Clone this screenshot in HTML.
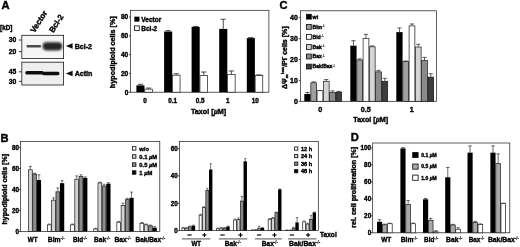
<!DOCTYPE html>
<html><head><meta charset="utf-8"><title>Figure</title>
<style>
html,body{margin:0;padding:0;background:#fff;}
body{width:520px;height:247px;overflow:hidden;font-family:"Liberation Sans",sans-serif;}
svg{display:block;}
svg text{font-family:"Liberation Sans",sans-serif;font-weight:bold;stroke:#000;stroke-width:0.38px;}
</style></head><body>
<svg width="520" height="247" viewBox="0 0 520 247">
<rect width="520" height="247" fill="#fff"/>
<defs><filter id="soft" x="0" y="0" width="100%" height="100%" filterUnits="userSpaceOnUse"><feGaussianBlur stdDeviation="0.32"/></filter></defs>
<g filter="url(#soft)">
<text transform="translate(1.4,9.0) scale(1.12,1)" font-size="10" fill="#000">A</text>
<text x="0.00" y="30.10" font-size="6.4" text-anchor="start" fill="#000" >[kD]</text>
<text transform="translate(34.4,33.3) rotate(-57)" font-size="8" fill="#000">Vector</text>
<text transform="translate(53.2,33.3) rotate(-57)" font-size="8" fill="#000">Bcl-2</text>
<defs><filter id="bl" x="-20%" y="-50%" width="140%" height="200%"><feGaussianBlur stdDeviation="0.7"/></filter><filter id="bl3" x="-20%" y="-50%" width="140%" height="200%"><feGaussianBlur stdDeviation="1.0"/></filter><filter id="bl2" x="-20%" y="-50%" width="140%" height="200%"><feGaussianBlur stdDeviation="0.5"/></filter></defs>
<rect x="21.80" y="35.30" width="41.80" height="23.30" fill="#f5f5f5" stroke="#1a1a1a" stroke-width="0.8"/>
<rect x="21.80" y="62.20" width="41.80" height="22.80" fill="#eeeeee" stroke="#1a1a1a" stroke-width="0.8"/>
<rect x="26.5" y="45.1" width="14.5" height="2.4" rx="1.1" fill="#4a4a4a" filter="url(#bl)"/>
<rect x="42.6" y="42.2" width="19.6" height="8.2" rx="3.8" fill="#262626" filter="url(#bl3)"/>
<rect x="25.3" y="70.9" width="18.5" height="3.7" rx="1.7" fill="#111" filter="url(#bl2)"/>
<rect x="42" y="71.7" width="17.5" height="3.5" rx="1.7" fill="#111" filter="url(#bl2)"/>
<text x="16.40" y="42.40" font-size="6.8" text-anchor="end" fill="#000" >30</text>
<line x1="18.80" y1="40.00" x2="21.70" y2="40.00" stroke="#222" stroke-width="0.9"/>
<text x="16.40" y="54.00" font-size="6.8" text-anchor="end" fill="#000" >20</text>
<line x1="18.80" y1="51.60" x2="21.70" y2="51.60" stroke="#222" stroke-width="0.9"/>
<text x="16.40" y="74.20" font-size="6.8" text-anchor="end" fill="#000" >45</text>
<line x1="18.80" y1="71.80" x2="21.70" y2="71.80" stroke="#222" stroke-width="0.9"/>
<text x="16.40" y="83.80" font-size="6.8" text-anchor="end" fill="#000" >30</text>
<line x1="18.80" y1="81.40" x2="21.70" y2="81.40" stroke="#222" stroke-width="0.9"/>
<path d="M65.8,46.0 L72.6,43.3 L72.6,48.7 Z" fill="#111"/>
<text x="74.70" y="48.60" font-size="7.1" text-anchor="start" fill="#000" >Bcl-2</text>
<path d="M65.8,73.5 L72.6,70.8 L72.6,76.2 Z" fill="#111"/>
<text x="74.70" y="76.10" font-size="7.1" text-anchor="start" fill="#000" >Actin</text>
<rect x="130.60" y="10.30" width="138.30" height="81.90" fill="none" stroke="#1a1a1a" stroke-width="0.7"/>
<line x1="129.00" y1="92.20" x2="130.60" y2="92.20" stroke="#1a1a1a" stroke-width="0.8"/>
<text x="128.30" y="94.58" font-size="6.6" text-anchor="end" fill="#000" >0</text>
<line x1="129.00" y1="73.42" x2="130.60" y2="73.42" stroke="#1a1a1a" stroke-width="0.8"/>
<text x="128.30" y="75.80" font-size="6.6" text-anchor="end" fill="#000" >20</text>
<line x1="129.00" y1="54.64" x2="130.60" y2="54.64" stroke="#1a1a1a" stroke-width="0.8"/>
<text x="128.30" y="57.02" font-size="6.6" text-anchor="end" fill="#000" >40</text>
<line x1="129.00" y1="35.86" x2="130.60" y2="35.86" stroke="#1a1a1a" stroke-width="0.8"/>
<text x="128.30" y="38.24" font-size="6.6" text-anchor="end" fill="#000" >60</text>
<line x1="129.00" y1="17.08" x2="130.60" y2="17.08" stroke="#1a1a1a" stroke-width="0.8"/>
<text x="128.30" y="19.46" font-size="6.6" text-anchor="end" fill="#000" >80</text>
<text transform="translate(114.8,52.2) rotate(-90)" font-size="7.2" text-anchor="middle" fill="#000">hypodiploid cells [%]</text>
<line x1="140.45" y1="85.39" x2="140.45" y2="84.31" stroke="#2a2a2a" stroke-width="0.8239999999999998"/>
<line x1="137.78" y1="84.31" x2="143.12" y2="84.31" stroke="#2a2a2a" stroke-width="0.8239999999999998"/>
<rect x="136.40" y="85.39" width="8.10" height="6.81" fill="#000"/>
<line x1="148.55" y1="88.91" x2="148.55" y2="88.07" stroke="#2a2a2a" stroke-width="0.8239999999999998"/>
<line x1="145.88" y1="88.07" x2="151.22" y2="88.07" stroke="#2a2a2a" stroke-width="0.8239999999999998"/>
<rect x="144.75" y="89.16" width="7.60" height="3.04" fill="#fff" stroke="#1a1a1a" stroke-width="0.7"/>
<line x1="168.15" y1="31.54" x2="168.15" y2="30.60" stroke="#2a2a2a" stroke-width="0.8239999999999998"/>
<line x1="165.48" y1="30.60" x2="170.82" y2="30.60" stroke="#2a2a2a" stroke-width="0.8239999999999998"/>
<rect x="164.10" y="31.54" width="8.10" height="60.66" fill="#000"/>
<line x1="176.25" y1="74.92" x2="176.25" y2="73.80" stroke="#2a2a2a" stroke-width="0.8239999999999998"/>
<line x1="173.58" y1="73.80" x2="178.92" y2="73.80" stroke="#2a2a2a" stroke-width="0.8239999999999998"/>
<rect x="172.45" y="75.17" width="7.60" height="17.03" fill="#fff" stroke="#1a1a1a" stroke-width="0.7"/>
<line x1="195.65" y1="26.85" x2="195.65" y2="26.38" stroke="#2a2a2a" stroke-width="0.8239999999999998"/>
<line x1="192.98" y1="26.38" x2="198.32" y2="26.38" stroke="#2a2a2a" stroke-width="0.8239999999999998"/>
<rect x="191.60" y="26.85" width="8.10" height="65.35" fill="#000"/>
<line x1="203.75" y1="75.20" x2="203.75" y2="72.01" stroke="#2a2a2a" stroke-width="0.8239999999999998"/>
<line x1="201.08" y1="72.01" x2="206.42" y2="72.01" stroke="#2a2a2a" stroke-width="0.8239999999999998"/>
<rect x="199.95" y="75.45" width="7.60" height="16.75" fill="#fff" stroke="#1a1a1a" stroke-width="0.7"/>
<line x1="223.25" y1="28.91" x2="223.25" y2="19.24" stroke="#2a2a2a" stroke-width="0.8239999999999998"/>
<line x1="220.58" y1="19.24" x2="225.92" y2="19.24" stroke="#2a2a2a" stroke-width="0.8239999999999998"/>
<rect x="219.20" y="28.91" width="8.10" height="63.29" fill="#000"/>
<line x1="231.35" y1="74.27" x2="231.35" y2="70.98" stroke="#2a2a2a" stroke-width="0.8239999999999998"/>
<line x1="228.68" y1="70.98" x2="234.02" y2="70.98" stroke="#2a2a2a" stroke-width="0.8239999999999998"/>
<rect x="227.55" y="74.52" width="7.60" height="17.68" fill="#fff" stroke="#1a1a1a" stroke-width="0.7"/>
<line x1="250.85" y1="38.11" x2="250.85" y2="37.64" stroke="#2a2a2a" stroke-width="0.8239999999999998"/>
<line x1="248.18" y1="37.64" x2="253.52" y2="37.64" stroke="#2a2a2a" stroke-width="0.8239999999999998"/>
<rect x="246.80" y="38.11" width="8.10" height="54.09" fill="#000"/>
<line x1="258.95" y1="75.20" x2="258.95" y2="74.83" stroke="#2a2a2a" stroke-width="0.8239999999999998"/>
<line x1="256.28" y1="74.83" x2="261.62" y2="74.83" stroke="#2a2a2a" stroke-width="0.8239999999999998"/>
<rect x="255.15" y="75.45" width="7.60" height="16.75" fill="#fff" stroke="#1a1a1a" stroke-width="0.7"/>
<text x="144.90" y="103.10" font-size="6.3" text-anchor="middle" fill="#000" >0</text>
<text x="172.60" y="103.10" font-size="6.3" text-anchor="middle" fill="#000" >0.1</text>
<text x="200.10" y="103.10" font-size="6.3" text-anchor="middle" fill="#000" >0.5</text>
<text x="227.70" y="103.10" font-size="6.3" text-anchor="middle" fill="#000" >1</text>
<text x="255.30" y="103.10" font-size="6.3" text-anchor="middle" fill="#000" >10</text>
<text x="208.60" y="113.60" font-size="7.2" text-anchor="middle" fill="#000" >Taxol [<tspan font-style="italic">µ</tspan>M]</text>
<rect x="134.50" y="16.90" width="4.80" height="4.60" fill="#000" stroke="#000" stroke-width="0.3"/>
<text x="141.30" y="21.60" font-size="6.5" text-anchor="start" fill="#000" >Vector</text>
<rect x="134.50" y="25.90" width="4.80" height="4.60" fill="#fff" stroke="#111" stroke-width="0.85"/>
<text x="141.30" y="30.80" font-size="6.5" text-anchor="start" fill="#000" >Bcl-2</text>
<text transform="translate(279.6,9.0) scale(1.12,1)" font-size="10" fill="#000">C</text>
<rect x="300.50" y="10.80" width="136.10" height="90.50" fill="none" stroke="#1a1a1a" stroke-width="0.7"/>
<line x1="298.90" y1="101.30" x2="300.50" y2="101.30" stroke="#1a1a1a" stroke-width="0.8"/>
<text x="297.80" y="103.82" font-size="7" text-anchor="end" fill="#000" >0</text>
<line x1="298.90" y1="80.40" x2="300.50" y2="80.40" stroke="#1a1a1a" stroke-width="0.8"/>
<text x="297.80" y="82.92" font-size="7" text-anchor="end" fill="#000" >10</text>
<line x1="298.90" y1="59.50" x2="300.50" y2="59.50" stroke="#1a1a1a" stroke-width="0.8"/>
<text x="297.80" y="62.02" font-size="7" text-anchor="end" fill="#000" >20</text>
<line x1="298.90" y1="38.60" x2="300.50" y2="38.60" stroke="#1a1a1a" stroke-width="0.8"/>
<text x="297.80" y="41.12" font-size="7" text-anchor="end" fill="#000" >30</text>
<line x1="298.90" y1="17.70" x2="300.50" y2="17.70" stroke="#1a1a1a" stroke-width="0.8"/>
<text x="297.80" y="20.22" font-size="7" text-anchor="end" fill="#000" >40</text>
<text id="clab" transform="translate(286.6,26.4) rotate(-90)" font-size="7" text-anchor="end" fill="#000">ΔΨ<tspan font-size="4.3" dy="1.6">m</tspan><tspan font-size="4.3" dy="-4.6" dx="0.4">low</tspan><tspan dy="3">/PI</tspan><tspan font-size="4.5" dy="-3">-</tspan><tspan dy="3"> cells [%]</tspan></text>
<line x1="307.44" y1="93.98" x2="307.44" y2="92.52" stroke="#2a2a2a" stroke-width="0.7507999999999992"/>
<line x1="305.37" y1="92.52" x2="309.50" y2="92.52" stroke="#2a2a2a" stroke-width="0.7507999999999992"/>
<rect x="304.30" y="93.98" width="6.27" height="7.31" fill="#000"/>
<line x1="313.71" y1="82.49" x2="313.71" y2="81.86" stroke="#2a2a2a" stroke-width="0.7508000000000016"/>
<line x1="311.64" y1="81.86" x2="315.77" y2="81.86" stroke="#2a2a2a" stroke-width="0.7508000000000016"/>
<rect x="310.82" y="82.74" width="5.77" height="18.56" fill="#a0a0a0" stroke="#1a1a1a" stroke-width="0.7"/>
<line x1="319.98" y1="90.43" x2="319.98" y2="90.43" stroke="#2a2a2a" stroke-width="0.7507999999999992"/>
<line x1="317.91" y1="90.43" x2="322.04" y2="90.43" stroke="#2a2a2a" stroke-width="0.7507999999999992"/>
<rect x="317.09" y="90.68" width="5.77" height="10.62" fill="#fff" stroke="#1a1a1a" stroke-width="0.7"/>
<line x1="326.25" y1="81.03" x2="326.25" y2="79.56" stroke="#2a2a2a" stroke-width="0.7507999999999992"/>
<line x1="324.18" y1="79.56" x2="328.31" y2="79.56" stroke="#2a2a2a" stroke-width="0.7507999999999992"/>
<rect x="323.36" y="81.28" width="5.77" height="20.02" fill="#d4d4d4" stroke="#1a1a1a" stroke-width="0.7"/>
<line x1="332.51" y1="92.31" x2="332.51" y2="90.85" stroke="#2a2a2a" stroke-width="0.7508000000000016"/>
<line x1="330.45" y1="90.85" x2="334.58" y2="90.85" stroke="#2a2a2a" stroke-width="0.7508000000000016"/>
<rect x="329.63" y="92.56" width="5.77" height="8.74" fill="#8a8a8a" stroke="#1a1a1a" stroke-width="0.7"/>
<line x1="338.79" y1="91.89" x2="338.79" y2="91.48" stroke="#2a2a2a" stroke-width="0.7507999999999992"/>
<line x1="336.72" y1="91.48" x2="340.85" y2="91.48" stroke="#2a2a2a" stroke-width="0.7507999999999992"/>
<rect x="335.90" y="92.14" width="5.77" height="9.16" fill="#3c3c3c" stroke="#1a1a1a" stroke-width="0.7"/>
<line x1="353.44" y1="45.71" x2="353.44" y2="40.69" stroke="#2a2a2a" stroke-width="0.7507999999999992"/>
<line x1="351.37" y1="40.69" x2="355.50" y2="40.69" stroke="#2a2a2a" stroke-width="0.7507999999999992"/>
<rect x="350.30" y="45.71" width="6.27" height="55.59" fill="#000"/>
<line x1="359.71" y1="59.71" x2="359.71" y2="58.87" stroke="#2a2a2a" stroke-width="0.7508000000000016"/>
<line x1="357.64" y1="58.87" x2="361.77" y2="58.87" stroke="#2a2a2a" stroke-width="0.7508000000000016"/>
<rect x="356.82" y="59.96" width="5.77" height="41.34" fill="#a0a0a0" stroke="#1a1a1a" stroke-width="0.7"/>
<line x1="365.98" y1="38.18" x2="365.98" y2="34.42" stroke="#2a2a2a" stroke-width="0.7507999999999992"/>
<line x1="363.91" y1="34.42" x2="368.04" y2="34.42" stroke="#2a2a2a" stroke-width="0.7507999999999992"/>
<rect x="363.09" y="38.43" width="5.77" height="62.87" fill="#fff" stroke="#1a1a1a" stroke-width="0.7"/>
<line x1="372.25" y1="46.54" x2="372.25" y2="45.91" stroke="#2a2a2a" stroke-width="0.7507999999999992"/>
<line x1="370.18" y1="45.91" x2="374.31" y2="45.91" stroke="#2a2a2a" stroke-width="0.7507999999999992"/>
<rect x="369.36" y="46.79" width="5.77" height="54.51" fill="#d4d4d4" stroke="#1a1a1a" stroke-width="0.7"/>
<line x1="378.51" y1="71.62" x2="378.51" y2="70.37" stroke="#2a2a2a" stroke-width="0.7508000000000016"/>
<line x1="376.45" y1="70.37" x2="380.58" y2="70.37" stroke="#2a2a2a" stroke-width="0.7508000000000016"/>
<rect x="375.63" y="71.87" width="5.77" height="29.43" fill="#8a8a8a" stroke="#1a1a1a" stroke-width="0.7"/>
<line x1="384.79" y1="81.03" x2="384.79" y2="78.31" stroke="#2a2a2a" stroke-width="0.7507999999999992"/>
<line x1="382.72" y1="78.31" x2="386.85" y2="78.31" stroke="#2a2a2a" stroke-width="0.7507999999999992"/>
<rect x="381.90" y="81.28" width="5.77" height="20.02" fill="#3c3c3c" stroke="#1a1a1a" stroke-width="0.7"/>
<line x1="399.44" y1="32.12" x2="399.44" y2="27.94" stroke="#2a2a2a" stroke-width="0.7507999999999992"/>
<line x1="397.37" y1="27.94" x2="401.50" y2="27.94" stroke="#2a2a2a" stroke-width="0.7507999999999992"/>
<rect x="396.30" y="32.12" width="6.27" height="69.18" fill="#000"/>
<line x1="405.71" y1="61.38" x2="405.71" y2="60.96" stroke="#2a2a2a" stroke-width="0.7508000000000016"/>
<line x1="403.64" y1="60.96" x2="407.77" y2="60.96" stroke="#2a2a2a" stroke-width="0.7508000000000016"/>
<rect x="402.82" y="61.63" width="5.77" height="39.67" fill="#a0a0a0" stroke="#1a1a1a" stroke-width="0.7"/>
<line x1="411.98" y1="25.64" x2="411.98" y2="23.97" stroke="#2a2a2a" stroke-width="0.7507999999999992"/>
<line x1="409.91" y1="23.97" x2="414.04" y2="23.97" stroke="#2a2a2a" stroke-width="0.7507999999999992"/>
<rect x="409.09" y="25.89" width="5.77" height="75.41" fill="#fff" stroke="#1a1a1a" stroke-width="0.7"/>
<line x1="418.25" y1="46.75" x2="418.25" y2="44.24" stroke="#2a2a2a" stroke-width="0.7507999999999992"/>
<line x1="416.18" y1="44.24" x2="420.31" y2="44.24" stroke="#2a2a2a" stroke-width="0.7507999999999992"/>
<rect x="415.36" y="47.00" width="5.77" height="54.30" fill="#d4d4d4" stroke="#1a1a1a" stroke-width="0.7"/>
<line x1="424.51" y1="60.34" x2="424.51" y2="57.41" stroke="#2a2a2a" stroke-width="0.7508000000000016"/>
<line x1="422.45" y1="57.41" x2="426.58" y2="57.41" stroke="#2a2a2a" stroke-width="0.7508000000000016"/>
<rect x="421.63" y="60.59" width="5.77" height="40.71" fill="#8a8a8a" stroke="#1a1a1a" stroke-width="0.7"/>
<line x1="430.79" y1="76.85" x2="430.79" y2="73.71" stroke="#2a2a2a" stroke-width="0.7507999999999992"/>
<line x1="428.72" y1="73.71" x2="432.85" y2="73.71" stroke="#2a2a2a" stroke-width="0.7507999999999992"/>
<rect x="427.90" y="77.10" width="5.77" height="24.20" fill="#3c3c3c" stroke="#1a1a1a" stroke-width="0.7"/>
<text x="320.20" y="112.00" font-size="7.2" text-anchor="middle" fill="#000" >0</text>
<text x="365.70" y="112.00" font-size="7.2" text-anchor="middle" fill="#000" >0.5</text>
<text x="411.70" y="112.00" font-size="7.2" text-anchor="middle" fill="#000" >1</text>
<text x="370.70" y="122.00" font-size="7.1" text-anchor="middle" fill="#000" >Taxol [<tspan font-style="italic">µ</tspan>M]</text>
<rect x="306.50" y="14.30" width="4.80" height="4.80" fill="#000" stroke="#111" stroke-width="0.85"/>
<text x="312.60" y="18.50" font-size="5" text-anchor="start" fill="#000" >wt</text>
<rect x="306.50" y="24.50" width="4.80" height="4.80" fill="#a0a0a0" stroke="#111" stroke-width="0.85"/>
<text x="312.60" y="28.70" font-size="5" text-anchor="start" fill="#000" >Bim<tspan font-size="3.30" dy="-1.50" stroke-width="0.1">-/-</tspan></text>
<rect x="306.50" y="34.50" width="4.80" height="4.80" fill="#fff" stroke="#111" stroke-width="0.85"/>
<text x="312.60" y="38.70" font-size="5" text-anchor="start" fill="#000" >Bid<tspan font-size="3.30" dy="-1.50" stroke-width="0.1">-/-</tspan></text>
<rect x="306.50" y="44.60" width="4.80" height="4.80" fill="#d4d4d4" stroke="#111" stroke-width="0.85"/>
<text x="312.60" y="48.80" font-size="5" text-anchor="start" fill="#000" >Bak<tspan font-size="3.30" dy="-1.50" stroke-width="0.1">-/-</tspan></text>
<rect x="306.50" y="54.10" width="4.80" height="4.80" fill="#8a8a8a" stroke="#111" stroke-width="0.85"/>
<text x="312.60" y="58.30" font-size="5" text-anchor="start" fill="#000" >Bax<tspan font-size="3.30" dy="-1.50" stroke-width="0.1">-/-</tspan></text>
<rect x="306.50" y="64.20" width="4.80" height="4.80" fill="#3c3c3c" stroke="#111" stroke-width="0.85"/>
<text x="312.60" y="68.40" font-size="5" text-anchor="start" fill="#000" >Bak/Bax<tspan font-size="3.30" dy="-1.50" stroke-width="0.1">-/-</tspan></text>
<text transform="translate(0.5,142.0) scale(1.12,1)" font-size="10" fill="#000">B</text>
<rect x="20.60" y="141.60" width="139.20" height="89.80" fill="none" stroke="#1a1a1a" stroke-width="0.7"/>
<line x1="19.00" y1="231.40" x2="20.60" y2="231.40" stroke="#1a1a1a" stroke-width="0.8"/>
<text x="19.00" y="233.70" font-size="6.4" text-anchor="end" fill="#000" >0</text>
<line x1="19.00" y1="210.44" x2="20.60" y2="210.44" stroke="#1a1a1a" stroke-width="0.8"/>
<text x="19.00" y="212.74" font-size="6.4" text-anchor="end" fill="#000" >20</text>
<line x1="19.00" y1="189.48" x2="20.60" y2="189.48" stroke="#1a1a1a" stroke-width="0.8"/>
<text x="19.00" y="191.78" font-size="6.4" text-anchor="end" fill="#000" >40</text>
<line x1="19.00" y1="168.52" x2="20.60" y2="168.52" stroke="#1a1a1a" stroke-width="0.8"/>
<text x="19.00" y="170.82" font-size="6.4" text-anchor="end" fill="#000" >60</text>
<line x1="19.00" y1="147.56" x2="20.60" y2="147.56" stroke="#1a1a1a" stroke-width="0.8"/>
<text x="19.00" y="149.86" font-size="6.4" text-anchor="end" fill="#000" >80</text>
<text transform="translate(6.6,189.2) rotate(-90)" font-size="7.05" text-anchor="middle" fill="#000">hypodiploid cells [%]</text>
<line x1="30.41" y1="169.57" x2="30.41" y2="166.42" stroke="#2a2a2a" stroke-width="0.6708"/>
<line x1="29.00" y1="166.42" x2="31.81" y2="166.42" stroke="#2a2a2a" stroke-width="0.6708"/>
<rect x="28.52" y="169.82" width="3.77" height="61.58" fill="#d4d4d4" stroke="#1a1a1a" stroke-width="0.7"/>
<line x1="34.67" y1="173.76" x2="34.67" y2="173.24" stroke="#2a2a2a" stroke-width="0.6708000000000001"/>
<line x1="33.27" y1="173.24" x2="36.08" y2="173.24" stroke="#2a2a2a" stroke-width="0.6708000000000001"/>
<rect x="32.79" y="174.01" width="3.77" height="57.39" fill="#8c8c8c" stroke="#1a1a1a" stroke-width="0.7"/>
<line x1="38.95" y1="180.05" x2="38.95" y2="174.81" stroke="#2a2a2a" stroke-width="0.6707999999999998"/>
<line x1="37.54" y1="174.81" x2="40.35" y2="174.81" stroke="#2a2a2a" stroke-width="0.6707999999999998"/>
<rect x="36.81" y="180.05" width="4.27" height="51.35" fill="#000"/>
<line x1="49.28" y1="224.59" x2="49.28" y2="224.06" stroke="#2a2a2a" stroke-width="0.6708000000000001"/>
<line x1="47.88" y1="224.06" x2="50.69" y2="224.06" stroke="#2a2a2a" stroke-width="0.6708000000000001"/>
<rect x="47.40" y="224.84" width="3.77" height="6.56" fill="#fff" stroke="#1a1a1a" stroke-width="0.7"/>
<line x1="53.55" y1="199.96" x2="53.55" y2="197.86" stroke="#2a2a2a" stroke-width="0.6707999999999998"/>
<line x1="52.15" y1="197.86" x2="54.96" y2="197.86" stroke="#2a2a2a" stroke-width="0.6707999999999998"/>
<rect x="51.67" y="200.21" width="3.77" height="31.19" fill="#d4d4d4" stroke="#1a1a1a" stroke-width="0.7"/>
<line x1="57.82" y1="191.58" x2="57.82" y2="187.91" stroke="#2a2a2a" stroke-width="0.6707999999999998"/>
<line x1="56.42" y1="187.91" x2="59.23" y2="187.91" stroke="#2a2a2a" stroke-width="0.6707999999999998"/>
<rect x="55.94" y="191.83" width="3.77" height="39.57" fill="#8c8c8c" stroke="#1a1a1a" stroke-width="0.7"/>
<line x1="62.09" y1="183.19" x2="62.09" y2="180.57" stroke="#2a2a2a" stroke-width="0.6707999999999998"/>
<line x1="60.69" y1="180.57" x2="63.50" y2="180.57" stroke="#2a2a2a" stroke-width="0.6707999999999998"/>
<rect x="59.96" y="183.19" width="4.27" height="48.21" fill="#000"/>
<line x1="72.44" y1="224.59" x2="72.44" y2="224.06" stroke="#2a2a2a" stroke-width="0.6707999999999998"/>
<line x1="71.03" y1="224.06" x2="73.84" y2="224.06" stroke="#2a2a2a" stroke-width="0.6707999999999998"/>
<rect x="70.55" y="224.84" width="3.77" height="6.56" fill="#fff" stroke="#1a1a1a" stroke-width="0.7"/>
<line x1="76.70" y1="179.00" x2="76.70" y2="175.86" stroke="#2a2a2a" stroke-width="0.6708000000000004"/>
<line x1="75.30" y1="175.86" x2="78.11" y2="175.86" stroke="#2a2a2a" stroke-width="0.6708000000000004"/>
<rect x="74.82" y="179.25" width="3.77" height="52.15" fill="#d4d4d4" stroke="#1a1a1a" stroke-width="0.7"/>
<line x1="80.97" y1="176.38" x2="80.97" y2="174.81" stroke="#2a2a2a" stroke-width="0.6707999999999998"/>
<line x1="79.57" y1="174.81" x2="82.38" y2="174.81" stroke="#2a2a2a" stroke-width="0.6707999999999998"/>
<rect x="79.09" y="176.63" width="3.77" height="54.77" fill="#8c8c8c" stroke="#1a1a1a" stroke-width="0.7"/>
<line x1="85.25" y1="177.95" x2="85.25" y2="176.90" stroke="#2a2a2a" stroke-width="0.6707999999999998"/>
<line x1="83.84" y1="176.90" x2="86.65" y2="176.90" stroke="#2a2a2a" stroke-width="0.6707999999999998"/>
<rect x="83.11" y="177.95" width="4.27" height="53.45" fill="#000"/>
<line x1="95.58" y1="228.78" x2="95.58" y2="228.26" stroke="#2a2a2a" stroke-width="0.6707999999999998"/>
<line x1="94.18" y1="228.26" x2="96.99" y2="228.26" stroke="#2a2a2a" stroke-width="0.6707999999999998"/>
<rect x="93.70" y="229.03" width="3.77" height="2.37" fill="#fff" stroke="#1a1a1a" stroke-width="0.7"/>
<line x1="99.85" y1="182.67" x2="99.85" y2="182.14" stroke="#2a2a2a" stroke-width="0.6707999999999998"/>
<line x1="98.45" y1="182.14" x2="101.26" y2="182.14" stroke="#2a2a2a" stroke-width="0.6707999999999998"/>
<rect x="97.97" y="182.92" width="3.77" height="48.48" fill="#d4d4d4" stroke="#1a1a1a" stroke-width="0.7"/>
<line x1="104.12" y1="185.81" x2="104.12" y2="184.24" stroke="#2a2a2a" stroke-width="0.6708000000000004"/>
<line x1="102.72" y1="184.24" x2="105.53" y2="184.24" stroke="#2a2a2a" stroke-width="0.6708000000000004"/>
<rect x="102.24" y="186.06" width="3.77" height="45.34" fill="#8c8c8c" stroke="#1a1a1a" stroke-width="0.7"/>
<line x1="108.39" y1="183.72" x2="108.39" y2="182.67" stroke="#2a2a2a" stroke-width="0.6707999999999998"/>
<line x1="106.99" y1="182.67" x2="109.80" y2="182.67" stroke="#2a2a2a" stroke-width="0.6707999999999998"/>
<rect x="106.26" y="183.72" width="4.27" height="47.68" fill="#000"/>
<line x1="118.73" y1="221.97" x2="118.73" y2="221.44" stroke="#2a2a2a" stroke-width="0.6707999999999998"/>
<line x1="117.33" y1="221.44" x2="120.14" y2="221.44" stroke="#2a2a2a" stroke-width="0.6707999999999998"/>
<rect x="116.85" y="222.22" width="3.77" height="9.18" fill="#fff" stroke="#1a1a1a" stroke-width="0.7"/>
<line x1="123.00" y1="205.20" x2="123.00" y2="203.10" stroke="#2a2a2a" stroke-width="0.6707999999999998"/>
<line x1="121.60" y1="203.10" x2="124.41" y2="203.10" stroke="#2a2a2a" stroke-width="0.6707999999999998"/>
<rect x="121.12" y="205.45" width="3.77" height="25.95" fill="#d4d4d4" stroke="#1a1a1a" stroke-width="0.7"/>
<line x1="127.27" y1="199.44" x2="127.27" y2="198.39" stroke="#2a2a2a" stroke-width="0.6708000000000004"/>
<line x1="125.87" y1="198.39" x2="128.68" y2="198.39" stroke="#2a2a2a" stroke-width="0.6708000000000004"/>
<rect x="125.39" y="199.69" width="3.77" height="31.71" fill="#8c8c8c" stroke="#1a1a1a" stroke-width="0.7"/>
<line x1="131.55" y1="197.86" x2="131.55" y2="192.10" stroke="#2a2a2a" stroke-width="0.6708000000000004"/>
<line x1="130.14" y1="192.10" x2="132.95" y2="192.10" stroke="#2a2a2a" stroke-width="0.6708000000000004"/>
<rect x="129.41" y="197.86" width="4.27" height="33.54" fill="#000"/>
<line x1="141.88" y1="223.02" x2="141.88" y2="222.49" stroke="#2a2a2a" stroke-width="0.6708000000000004"/>
<line x1="140.48" y1="222.49" x2="143.29" y2="222.49" stroke="#2a2a2a" stroke-width="0.6708000000000004"/>
<rect x="140.00" y="223.27" width="3.77" height="8.13" fill="#fff" stroke="#1a1a1a" stroke-width="0.7"/>
<line x1="146.16" y1="224.59" x2="146.16" y2="224.06" stroke="#2a2a2a" stroke-width="0.6707999999999993"/>
<line x1="144.75" y1="224.06" x2="147.56" y2="224.06" stroke="#2a2a2a" stroke-width="0.6707999999999993"/>
<rect x="144.27" y="224.84" width="3.77" height="6.56" fill="#d4d4d4" stroke="#1a1a1a" stroke-width="0.7"/>
<line x1="150.43" y1="225.64" x2="150.43" y2="225.11" stroke="#2a2a2a" stroke-width="0.6708000000000004"/>
<line x1="149.02" y1="225.11" x2="151.83" y2="225.11" stroke="#2a2a2a" stroke-width="0.6708000000000004"/>
<rect x="148.54" y="225.89" width="3.77" height="5.51" fill="#8c8c8c" stroke="#1a1a1a" stroke-width="0.7"/>
<line x1="154.69" y1="227.73" x2="154.69" y2="226.68" stroke="#2a2a2a" stroke-width="0.6707999999999993"/>
<line x1="153.29" y1="226.68" x2="156.10" y2="226.68" stroke="#2a2a2a" stroke-width="0.6707999999999993"/>
<rect x="152.56" y="227.73" width="4.27" height="3.67" fill="#000"/>
<text x="27.80" y="242.30" font-size="6.8" text-anchor="start" fill="#000" textLength="9.8" lengthAdjust="spacingAndGlyphs">WT</text>
<text x="47.80" y="242.30" font-size="6.8" text-anchor="start" fill="#000" textLength="17.0" lengthAdjust="spacingAndGlyphs">Bim<tspan font-size="4.49" dy="-2.04" stroke-width="0.1">-/-</tspan></text>
<text x="72.90" y="242.30" font-size="6.8" text-anchor="start" fill="#000" textLength="14.2" lengthAdjust="spacingAndGlyphs">Bid<tspan font-size="4.49" dy="-2.04" stroke-width="0.1">-/-</tspan></text>
<text x="94.10" y="242.30" font-size="6.8" text-anchor="start" fill="#000" textLength="16.1" lengthAdjust="spacingAndGlyphs">Bak<tspan font-size="4.49" dy="-2.04" stroke-width="0.1">-/-</tspan></text>
<text x="114.40" y="242.30" font-size="6.8" text-anchor="start" fill="#000" textLength="16.6" lengthAdjust="spacingAndGlyphs">Bax<tspan font-size="4.49" dy="-2.04" stroke-width="0.1">-/-</tspan></text>
<text x="135.50" y="242.30" font-size="6.8" text-anchor="start" fill="#000" textLength="29.6" lengthAdjust="spacingAndGlyphs">Bak/Bax<tspan font-size="4.49" dy="-2.04" stroke-width="0.1">-/-</tspan></text>
<rect x="132.40" y="146.65" width="3.50" height="3.50" fill="#fff" stroke="#111" stroke-width="0.85"/>
<text x="139.30" y="150.50" font-size="5.8" text-anchor="start" fill="#000" >w/o</text>
<rect x="132.40" y="154.75" width="3.50" height="3.50" fill="#d4d4d4" stroke="#111" stroke-width="0.85"/>
<text x="139.30" y="158.60" font-size="5.8" text-anchor="start" fill="#000" >0.1 <tspan font-style="italic">µ</tspan>M</text>
<rect x="132.40" y="162.85" width="3.50" height="3.50" fill="#8c8c8c" stroke="#111" stroke-width="0.85"/>
<text x="139.30" y="166.70" font-size="5.8" text-anchor="start" fill="#000" >0.5 <tspan font-style="italic">µ</tspan>M</text>
<rect x="132.40" y="170.75" width="3.50" height="3.50" fill="#000" stroke="#111" stroke-width="0.85"/>
<text x="139.30" y="174.60" font-size="5.8" text-anchor="start" fill="#000" >1 <tspan font-style="italic">µ</tspan>M</text>
<rect x="179.60" y="141.60" width="138.70" height="89.00" fill="none" stroke="#1a1a1a" stroke-width="0.7"/>
<line x1="178.00" y1="230.60" x2="179.60" y2="230.60" stroke="#1a1a1a" stroke-width="0.8"/>
<text x="177.80" y="232.87" font-size="6.3" text-anchor="end" fill="#000" >0</text>
<line x1="178.00" y1="203.28" x2="179.60" y2="203.28" stroke="#1a1a1a" stroke-width="0.8"/>
<text x="177.80" y="205.55" font-size="6.3" text-anchor="end" fill="#000" >20</text>
<line x1="178.00" y1="175.96" x2="179.60" y2="175.96" stroke="#1a1a1a" stroke-width="0.8"/>
<text x="177.80" y="178.23" font-size="6.3" text-anchor="end" fill="#000" >40</text>
<line x1="178.00" y1="148.64" x2="179.60" y2="148.64" stroke="#1a1a1a" stroke-width="0.8"/>
<text x="177.80" y="150.91" font-size="6.3" text-anchor="end" fill="#000" >60</text>
<line x1="183.29" y1="227.87" x2="183.29" y2="227.46" stroke="#2a2a2a" stroke-width="0.6351999999999998"/>
<line x1="182.17" y1="227.46" x2="184.41" y2="227.46" stroke="#2a2a2a" stroke-width="0.6351999999999998"/>
<rect x="181.85" y="228.12" width="2.88" height="2.48" fill="#fff" stroke="#1a1a1a" stroke-width="0.7"/>
<line x1="186.67" y1="227.87" x2="186.67" y2="227.46" stroke="#2a2a2a" stroke-width="0.6351999999999998"/>
<line x1="185.55" y1="227.46" x2="187.79" y2="227.46" stroke="#2a2a2a" stroke-width="0.6351999999999998"/>
<rect x="185.23" y="228.12" width="2.88" height="2.48" fill="#d4d4d4" stroke="#1a1a1a" stroke-width="0.7"/>
<line x1="190.05" y1="226.50" x2="190.05" y2="226.09" stroke="#2a2a2a" stroke-width="0.635200000000001"/>
<line x1="188.93" y1="226.09" x2="191.17" y2="226.09" stroke="#2a2a2a" stroke-width="0.635200000000001"/>
<rect x="188.61" y="226.75" width="2.88" height="3.85" fill="#8c8c8c" stroke="#1a1a1a" stroke-width="0.7"/>
<line x1="193.43" y1="225.68" x2="193.43" y2="225.14" stroke="#2a2a2a" stroke-width="0.6351999999999998"/>
<line x1="192.31" y1="225.14" x2="194.55" y2="225.14" stroke="#2a2a2a" stroke-width="0.6351999999999998"/>
<rect x="191.74" y="225.68" width="3.38" height="4.92" fill="#000"/>
<line x1="200.56" y1="214.89" x2="200.56" y2="214.21" stroke="#2a2a2a" stroke-width="0.6351999999999998"/>
<line x1="199.44" y1="214.21" x2="201.68" y2="214.21" stroke="#2a2a2a" stroke-width="0.6351999999999998"/>
<rect x="199.12" y="215.14" width="2.88" height="15.46" fill="#fff" stroke="#1a1a1a" stroke-width="0.7"/>
<line x1="203.94" y1="207.38" x2="203.94" y2="206.69" stroke="#2a2a2a" stroke-width="0.6351999999999998"/>
<line x1="202.82" y1="206.69" x2="205.06" y2="206.69" stroke="#2a2a2a" stroke-width="0.6351999999999998"/>
<rect x="202.50" y="207.63" width="2.88" height="22.97" fill="#d4d4d4" stroke="#1a1a1a" stroke-width="0.7"/>
<line x1="207.32" y1="190.30" x2="207.32" y2="188.25" stroke="#2a2a2a" stroke-width="0.6351999999999998"/>
<line x1="206.20" y1="188.25" x2="208.44" y2="188.25" stroke="#2a2a2a" stroke-width="0.6351999999999998"/>
<rect x="205.88" y="190.55" width="2.88" height="40.05" fill="#8c8c8c" stroke="#1a1a1a" stroke-width="0.7"/>
<line x1="210.70" y1="169.54" x2="210.70" y2="163.67" stroke="#2a2a2a" stroke-width="0.635200000000001"/>
<line x1="209.58" y1="163.67" x2="211.82" y2="163.67" stroke="#2a2a2a" stroke-width="0.635200000000001"/>
<rect x="209.01" y="169.54" width="3.38" height="61.06" fill="#000"/>
<line x1="217.83" y1="228.55" x2="217.83" y2="228.14" stroke="#2a2a2a" stroke-width="0.6351999999999998"/>
<line x1="216.71" y1="228.14" x2="218.95" y2="228.14" stroke="#2a2a2a" stroke-width="0.6351999999999998"/>
<rect x="216.39" y="228.80" width="2.88" height="1.80" fill="#fff" stroke="#1a1a1a" stroke-width="0.7"/>
<line x1="221.21" y1="227.87" x2="221.21" y2="227.59" stroke="#2a2a2a" stroke-width="0.6351999999999998"/>
<line x1="220.09" y1="227.59" x2="222.33" y2="227.59" stroke="#2a2a2a" stroke-width="0.6351999999999998"/>
<rect x="219.77" y="228.12" width="2.88" height="2.48" fill="#d4d4d4" stroke="#1a1a1a" stroke-width="0.7"/>
<line x1="224.59" y1="227.87" x2="224.59" y2="227.59" stroke="#2a2a2a" stroke-width="0.6351999999999998"/>
<line x1="223.47" y1="227.59" x2="225.71" y2="227.59" stroke="#2a2a2a" stroke-width="0.6351999999999998"/>
<rect x="223.15" y="228.12" width="2.88" height="2.48" fill="#8c8c8c" stroke="#1a1a1a" stroke-width="0.7"/>
<line x1="227.97" y1="226.50" x2="227.97" y2="226.09" stroke="#2a2a2a" stroke-width="0.635200000000001"/>
<line x1="226.85" y1="226.09" x2="229.09" y2="226.09" stroke="#2a2a2a" stroke-width="0.635200000000001"/>
<rect x="226.28" y="226.50" width="3.38" height="4.10" fill="#000"/>
<line x1="235.10" y1="219.67" x2="235.10" y2="218.99" stroke="#2a2a2a" stroke-width="0.6351999999999998"/>
<line x1="233.98" y1="218.99" x2="236.22" y2="218.99" stroke="#2a2a2a" stroke-width="0.6351999999999998"/>
<rect x="233.66" y="219.92" width="2.88" height="10.68" fill="#fff" stroke="#1a1a1a" stroke-width="0.7"/>
<line x1="238.48" y1="219.26" x2="238.48" y2="217.90" stroke="#2a2a2a" stroke-width="0.6351999999999998"/>
<line x1="237.36" y1="217.90" x2="239.60" y2="217.90" stroke="#2a2a2a" stroke-width="0.6351999999999998"/>
<rect x="237.04" y="219.51" width="2.88" height="11.09" fill="#d4d4d4" stroke="#1a1a1a" stroke-width="0.7"/>
<line x1="241.86" y1="200.82" x2="241.86" y2="196.45" stroke="#2a2a2a" stroke-width="0.635200000000001"/>
<line x1="240.74" y1="196.45" x2="242.98" y2="196.45" stroke="#2a2a2a" stroke-width="0.635200000000001"/>
<rect x="240.42" y="201.07" width="2.88" height="29.53" fill="#8c8c8c" stroke="#1a1a1a" stroke-width="0.7"/>
<line x1="245.24" y1="161.34" x2="245.24" y2="158.61" stroke="#2a2a2a" stroke-width="0.6351999999999998"/>
<line x1="244.12" y1="158.61" x2="246.36" y2="158.61" stroke="#2a2a2a" stroke-width="0.6351999999999998"/>
<rect x="243.55" y="161.34" width="3.38" height="69.26" fill="#000"/>
<line x1="252.37" y1="229.92" x2="252.37" y2="229.92" stroke="#2a2a2a" stroke-width="0.6351999999999998"/>
<line x1="251.25" y1="229.92" x2="253.49" y2="229.92" stroke="#2a2a2a" stroke-width="0.6351999999999998"/>
<rect x="250.93" y="230.17" width="2.88" height="0.43" fill="#fff" stroke="#1a1a1a" stroke-width="0.7"/>
<line x1="255.75" y1="229.78" x2="255.75" y2="229.78" stroke="#2a2a2a" stroke-width="0.6351999999999998"/>
<line x1="254.63" y1="229.78" x2="256.87" y2="229.78" stroke="#2a2a2a" stroke-width="0.6351999999999998"/>
<rect x="254.31" y="230.03" width="2.88" height="0.57" fill="#d4d4d4" stroke="#1a1a1a" stroke-width="0.7"/>
<line x1="259.13" y1="227.87" x2="259.13" y2="226.09" stroke="#2a2a2a" stroke-width="0.6351999999999998"/>
<line x1="258.01" y1="226.09" x2="260.25" y2="226.09" stroke="#2a2a2a" stroke-width="0.6351999999999998"/>
<rect x="257.69" y="228.12" width="2.88" height="2.48" fill="#8c8c8c" stroke="#1a1a1a" stroke-width="0.7"/>
<line x1="262.51" y1="227.87" x2="262.51" y2="227.59" stroke="#2a2a2a" stroke-width="0.6351999999999998"/>
<line x1="261.39" y1="227.59" x2="263.63" y2="227.59" stroke="#2a2a2a" stroke-width="0.6351999999999998"/>
<rect x="260.82" y="227.87" width="3.38" height="2.73" fill="#000"/>
<line x1="269.64" y1="218.99" x2="269.64" y2="218.58" stroke="#2a2a2a" stroke-width="0.6351999999999998"/>
<line x1="268.52" y1="218.58" x2="270.76" y2="218.58" stroke="#2a2a2a" stroke-width="0.6351999999999998"/>
<rect x="268.20" y="219.24" width="2.88" height="11.36" fill="#fff" stroke="#1a1a1a" stroke-width="0.7"/>
<line x1="273.02" y1="217.90" x2="273.02" y2="217.49" stroke="#2a2a2a" stroke-width="0.6351999999999998"/>
<line x1="271.90" y1="217.49" x2="274.14" y2="217.49" stroke="#2a2a2a" stroke-width="0.6351999999999998"/>
<rect x="271.58" y="218.15" width="2.88" height="12.45" fill="#d4d4d4" stroke="#1a1a1a" stroke-width="0.7"/>
<line x1="276.40" y1="212.43" x2="276.40" y2="212.02" stroke="#2a2a2a" stroke-width="0.6351999999999998"/>
<line x1="275.28" y1="212.02" x2="277.52" y2="212.02" stroke="#2a2a2a" stroke-width="0.6351999999999998"/>
<rect x="274.96" y="212.68" width="2.88" height="17.92" fill="#8c8c8c" stroke="#1a1a1a" stroke-width="0.7"/>
<line x1="279.78" y1="189.35" x2="279.78" y2="188.94" stroke="#2a2a2a" stroke-width="0.6351999999999998"/>
<line x1="278.66" y1="188.94" x2="280.90" y2="188.94" stroke="#2a2a2a" stroke-width="0.6351999999999998"/>
<rect x="278.09" y="189.35" width="3.38" height="41.25" fill="#000"/>
<line x1="286.91" y1="230.05" x2="286.91" y2="230.05" stroke="#2a2a2a" stroke-width="0.6351999999999998"/>
<line x1="285.79" y1="230.05" x2="288.03" y2="230.05" stroke="#2a2a2a" stroke-width="0.6351999999999998"/>
<rect x="285.47" y="230.30" width="2.88" height="0.30" fill="#fff" stroke="#1a1a1a" stroke-width="0.7"/>
<line x1="290.29" y1="230.05" x2="290.29" y2="230.05" stroke="#2a2a2a" stroke-width="0.6351999999999998"/>
<line x1="289.17" y1="230.05" x2="291.41" y2="230.05" stroke="#2a2a2a" stroke-width="0.6351999999999998"/>
<rect x="288.85" y="230.30" width="2.88" height="0.30" fill="#d4d4d4" stroke="#1a1a1a" stroke-width="0.7"/>
<line x1="293.67" y1="227.87" x2="293.67" y2="227.19" stroke="#2a2a2a" stroke-width="0.6351999999999998"/>
<line x1="292.55" y1="227.19" x2="294.79" y2="227.19" stroke="#2a2a2a" stroke-width="0.6351999999999998"/>
<rect x="292.23" y="228.12" width="2.88" height="2.48" fill="#8c8c8c" stroke="#1a1a1a" stroke-width="0.7"/>
<line x1="297.05" y1="222.40" x2="297.05" y2="217.62" stroke="#2a2a2a" stroke-width="0.6351999999999998"/>
<line x1="295.93" y1="217.62" x2="298.17" y2="217.62" stroke="#2a2a2a" stroke-width="0.6351999999999998"/>
<rect x="295.36" y="222.40" width="3.38" height="8.20" fill="#000"/>
<line x1="304.18" y1="221.58" x2="304.18" y2="221.04" stroke="#2a2a2a" stroke-width="0.6351999999999998"/>
<line x1="303.06" y1="221.04" x2="305.30" y2="221.04" stroke="#2a2a2a" stroke-width="0.6351999999999998"/>
<rect x="302.74" y="221.83" width="2.88" height="8.77" fill="#fff" stroke="#1a1a1a" stroke-width="0.7"/>
<line x1="307.56" y1="223.77" x2="307.56" y2="223.09" stroke="#2a2a2a" stroke-width="0.6351999999999998"/>
<line x1="306.44" y1="223.09" x2="308.68" y2="223.09" stroke="#2a2a2a" stroke-width="0.6351999999999998"/>
<rect x="306.12" y="224.02" width="2.88" height="6.58" fill="#d4d4d4" stroke="#1a1a1a" stroke-width="0.7"/>
<line x1="310.94" y1="219.13" x2="310.94" y2="215.57" stroke="#2a2a2a" stroke-width="0.6351999999999998"/>
<line x1="309.82" y1="215.57" x2="312.06" y2="215.57" stroke="#2a2a2a" stroke-width="0.6351999999999998"/>
<rect x="309.50" y="219.38" width="2.88" height="11.22" fill="#8c8c8c" stroke="#1a1a1a" stroke-width="0.7"/>
<line x1="314.32" y1="212.43" x2="314.32" y2="212.02" stroke="#2a2a2a" stroke-width="0.6351999999999998"/>
<line x1="313.20" y1="212.02" x2="315.44" y2="212.02" stroke="#2a2a2a" stroke-width="0.6351999999999998"/>
<rect x="312.63" y="212.43" width="3.38" height="18.17" fill="#000"/>
<line x1="187.30" y1="235.00" x2="191.70" y2="235.00" stroke="#000" stroke-width="1.15"/>
<line x1="202.30" y1="235.00" x2="206.50" y2="235.00" stroke="#000" stroke-width="1.15"/>
<line x1="204.40" y1="232.90" x2="204.40" y2="237.10" stroke="#000" stroke-width="1.15"/>
<line x1="181.90" y1="238.90" x2="210.40" y2="238.90" stroke="#222" stroke-width="0.8"/>
<text x="191.40" y="246.40" font-size="6.8" text-anchor="start" fill="#000" textLength="9.6" lengthAdjust="spacingAndGlyphs">WT</text>
<line x1="220.30" y1="235.00" x2="224.70" y2="235.00" stroke="#000" stroke-width="1.15"/>
<line x1="238.40" y1="235.00" x2="242.60" y2="235.00" stroke="#000" stroke-width="1.15"/>
<line x1="240.50" y1="232.90" x2="240.50" y2="237.10" stroke="#000" stroke-width="1.15"/>
<line x1="218.80" y1="238.90" x2="247.30" y2="238.90" stroke="#222" stroke-width="0.8"/>
<text x="224.70" y="246.40" font-size="6.8" text-anchor="start" fill="#000" textLength="16.3" lengthAdjust="spacingAndGlyphs">Bak<tspan font-size="4.49" dy="-2.04" stroke-width="0.1">-/-</tspan></text>
<line x1="256.90" y1="235.00" x2="261.30" y2="235.00" stroke="#000" stroke-width="1.15"/>
<line x1="272.40" y1="235.00" x2="276.60" y2="235.00" stroke="#000" stroke-width="1.15"/>
<line x1="274.50" y1="232.90" x2="274.50" y2="237.10" stroke="#000" stroke-width="1.15"/>
<line x1="255.00" y1="238.90" x2="281.90" y2="238.90" stroke="#222" stroke-width="0.8"/>
<text x="261.80" y="246.40" font-size="6.8" text-anchor="start" fill="#000" textLength="16.1" lengthAdjust="spacingAndGlyphs">Bax<tspan font-size="4.49" dy="-2.04" stroke-width="0.1">-/-</tspan></text>
<line x1="289.70" y1="235.00" x2="294.10" y2="235.00" stroke="#000" stroke-width="1.15"/>
<line x1="306.00" y1="235.00" x2="310.20" y2="235.00" stroke="#000" stroke-width="1.15"/>
<line x1="308.10" y1="232.90" x2="308.10" y2="237.10" stroke="#000" stroke-width="1.15"/>
<line x1="288.10" y1="238.90" x2="316.50" y2="238.90" stroke="#222" stroke-width="0.8"/>
<text x="289.00" y="246.40" font-size="6.8" text-anchor="start" fill="#000" textLength="31.2" lengthAdjust="spacingAndGlyphs">Bak/Bax<tspan font-size="4.49" dy="-2.04" stroke-width="0.1">-/-</tspan></text>
<text x="320.00" y="236.80" font-size="6.6" text-anchor="start" fill="#000" >Taxol</text>
<rect x="294.60" y="147.00" width="3.20" height="3.20" fill="#fff" stroke="#111" stroke-width="0.85"/>
<text x="301.00" y="150.60" font-size="5.6" text-anchor="start" fill="#000" >12 h</text>
<rect x="294.60" y="154.50" width="3.20" height="3.20" fill="#d4d4d4" stroke="#111" stroke-width="0.85"/>
<text x="301.00" y="158.10" font-size="5.6" text-anchor="start" fill="#000" >24 h</text>
<rect x="294.60" y="162.10" width="3.20" height="3.20" fill="#8c8c8c" stroke="#111" stroke-width="0.85"/>
<text x="301.00" y="165.70" font-size="5.6" text-anchor="start" fill="#000" >36 h</text>
<rect x="294.60" y="169.60" width="3.20" height="3.20" fill="#000" stroke="#111" stroke-width="0.85"/>
<text x="301.00" y="173.20" font-size="5.6" text-anchor="start" fill="#000" >48 h</text>
<text transform="translate(350.8,141.0) scale(1.12,1)" font-size="10" fill="#000">D</text>
<rect x="372.70" y="143.00" width="137.10" height="89.80" fill="none" stroke="#1a1a1a" stroke-width="0.7"/>
<line x1="371.10" y1="232.80" x2="372.70" y2="232.80" stroke="#1a1a1a" stroke-width="0.8"/>
<text x="371.20" y="235.10" font-size="6.4" text-anchor="end" fill="#000" >0</text>
<line x1="371.10" y1="215.84" x2="372.70" y2="215.84" stroke="#1a1a1a" stroke-width="0.8"/>
<text x="371.20" y="218.14" font-size="6.4" text-anchor="end" fill="#000" >20</text>
<line x1="371.10" y1="198.88" x2="372.70" y2="198.88" stroke="#1a1a1a" stroke-width="0.8"/>
<text x="371.20" y="201.18" font-size="6.4" text-anchor="end" fill="#000" >40</text>
<line x1="371.10" y1="181.92" x2="372.70" y2="181.92" stroke="#1a1a1a" stroke-width="0.8"/>
<text x="371.20" y="184.22" font-size="6.4" text-anchor="end" fill="#000" >60</text>
<line x1="371.10" y1="164.96" x2="372.70" y2="164.96" stroke="#1a1a1a" stroke-width="0.8"/>
<text x="371.20" y="167.26" font-size="6.4" text-anchor="end" fill="#000" >80</text>
<line x1="371.10" y1="148.00" x2="372.70" y2="148.00" stroke="#1a1a1a" stroke-width="0.8"/>
<text x="371.20" y="150.30" font-size="6.4" text-anchor="end" fill="#000" >100</text>
<text transform="translate(356.0,187.3) rotate(-90)" font-size="7.1" text-anchor="middle" fill="#000">rel. cell proliferation [%]</text>
<line x1="379.57" y1="221.78" x2="379.57" y2="219.66" stroke="#2a2a2a" stroke-width="0.7059999999999991"/>
<line x1="377.88" y1="219.66" x2="381.27" y2="219.66" stroke="#2a2a2a" stroke-width="0.7059999999999991"/>
<rect x="377.00" y="221.78" width="5.15" height="11.02" fill="#000"/>
<line x1="384.73" y1="224.49" x2="384.73" y2="224.15" stroke="#2a2a2a" stroke-width="0.7060000000000014"/>
<line x1="383.03" y1="224.15" x2="386.42" y2="224.15" stroke="#2a2a2a" stroke-width="0.7060000000000014"/>
<rect x="382.40" y="224.74" width="4.65" height="8.06" fill="#a8a8a8" stroke="#1a1a1a" stroke-width="0.7"/>
<line x1="389.88" y1="223.47" x2="389.88" y2="223.22" stroke="#2a2a2a" stroke-width="0.7059999999999991"/>
<line x1="388.18" y1="223.22" x2="391.57" y2="223.22" stroke="#2a2a2a" stroke-width="0.7059999999999991"/>
<rect x="387.55" y="223.72" width="4.65" height="9.08" fill="#fff" stroke="#1a1a1a" stroke-width="0.7"/>
<line x1="402.97" y1="148.42" x2="402.97" y2="147.58" stroke="#2a2a2a" stroke-width="0.7059999999999991"/>
<line x1="401.28" y1="147.58" x2="404.67" y2="147.58" stroke="#2a2a2a" stroke-width="0.7059999999999991"/>
<rect x="400.40" y="148.42" width="5.15" height="84.38" fill="#000"/>
<line x1="408.12" y1="204.39" x2="408.12" y2="200.58" stroke="#2a2a2a" stroke-width="0.7060000000000014"/>
<line x1="406.43" y1="200.58" x2="409.82" y2="200.58" stroke="#2a2a2a" stroke-width="0.7060000000000014"/>
<rect x="405.80" y="204.64" width="4.65" height="28.16" fill="#a8a8a8" stroke="#1a1a1a" stroke-width="0.7"/>
<line x1="413.27" y1="223.47" x2="413.27" y2="223.05" stroke="#2a2a2a" stroke-width="0.7059999999999991"/>
<line x1="411.58" y1="223.05" x2="414.97" y2="223.05" stroke="#2a2a2a" stroke-width="0.7059999999999991"/>
<rect x="410.95" y="223.72" width="4.65" height="9.08" fill="#fff" stroke="#1a1a1a" stroke-width="0.7"/>
<line x1="425.57" y1="199.30" x2="425.57" y2="198.46" stroke="#2a2a2a" stroke-width="0.7059999999999991"/>
<line x1="423.88" y1="198.46" x2="427.27" y2="198.46" stroke="#2a2a2a" stroke-width="0.7059999999999991"/>
<rect x="423.00" y="199.30" width="5.15" height="33.50" fill="#000"/>
<line x1="430.73" y1="220.08" x2="430.73" y2="218.38" stroke="#2a2a2a" stroke-width="0.7060000000000014"/>
<line x1="429.03" y1="218.38" x2="432.42" y2="218.38" stroke="#2a2a2a" stroke-width="0.7060000000000014"/>
<rect x="428.40" y="220.33" width="4.65" height="12.47" fill="#a8a8a8" stroke="#1a1a1a" stroke-width="0.7"/>
<line x1="435.88" y1="231.53" x2="435.88" y2="230.68" stroke="#2a2a2a" stroke-width="0.7059999999999991"/>
<line x1="434.18" y1="230.68" x2="437.57" y2="230.68" stroke="#2a2a2a" stroke-width="0.7059999999999991"/>
<rect x="433.55" y="231.78" width="4.65" height="1.02" fill="#fff" stroke="#1a1a1a" stroke-width="0.7"/>
<line x1="447.77" y1="177.26" x2="447.77" y2="167.50" stroke="#2a2a2a" stroke-width="0.7059999999999991"/>
<line x1="446.08" y1="167.50" x2="449.47" y2="167.50" stroke="#2a2a2a" stroke-width="0.7059999999999991"/>
<rect x="445.20" y="177.26" width="5.15" height="55.54" fill="#000"/>
<line x1="452.92" y1="224.74" x2="452.92" y2="224.32" stroke="#2a2a2a" stroke-width="0.7060000000000014"/>
<line x1="451.23" y1="224.32" x2="454.62" y2="224.32" stroke="#2a2a2a" stroke-width="0.7060000000000014"/>
<rect x="450.60" y="224.99" width="4.65" height="7.81" fill="#a8a8a8" stroke="#1a1a1a" stroke-width="0.7"/>
<line x1="458.07" y1="228.98" x2="458.07" y2="227.71" stroke="#2a2a2a" stroke-width="0.7059999999999991"/>
<line x1="456.38" y1="227.71" x2="459.77" y2="227.71" stroke="#2a2a2a" stroke-width="0.7059999999999991"/>
<rect x="455.75" y="229.23" width="4.65" height="3.57" fill="#fff" stroke="#1a1a1a" stroke-width="0.7"/>
<line x1="470.07" y1="152.66" x2="470.07" y2="145.88" stroke="#2a2a2a" stroke-width="0.7059999999999991"/>
<line x1="468.38" y1="145.88" x2="471.77" y2="145.88" stroke="#2a2a2a" stroke-width="0.7059999999999991"/>
<rect x="467.50" y="152.66" width="5.15" height="80.14" fill="#000"/>
<line x1="475.23" y1="222.20" x2="475.23" y2="221.35" stroke="#2a2a2a" stroke-width="0.7060000000000014"/>
<line x1="473.53" y1="221.35" x2="476.92" y2="221.35" stroke="#2a2a2a" stroke-width="0.7060000000000014"/>
<rect x="472.90" y="222.45" width="4.65" height="10.35" fill="#a8a8a8" stroke="#1a1a1a" stroke-width="0.7"/>
<line x1="480.38" y1="224.32" x2="480.38" y2="223.90" stroke="#2a2a2a" stroke-width="0.7059999999999991"/>
<line x1="478.68" y1="223.90" x2="482.07" y2="223.90" stroke="#2a2a2a" stroke-width="0.7059999999999991"/>
<rect x="478.05" y="224.57" width="4.65" height="8.23" fill="#fff" stroke="#1a1a1a" stroke-width="0.7"/>
<line x1="492.97" y1="152.66" x2="492.97" y2="145.88" stroke="#2a2a2a" stroke-width="0.7059999999999991"/>
<line x1="491.28" y1="145.88" x2="494.67" y2="145.88" stroke="#2a2a2a" stroke-width="0.7059999999999991"/>
<rect x="490.40" y="152.66" width="5.15" height="80.14" fill="#000"/>
<line x1="498.12" y1="163.26" x2="498.12" y2="153.94" stroke="#2a2a2a" stroke-width="0.7060000000000014"/>
<line x1="496.43" y1="153.94" x2="499.82" y2="153.94" stroke="#2a2a2a" stroke-width="0.7060000000000014"/>
<rect x="495.80" y="163.51" width="4.65" height="69.29" fill="#a8a8a8" stroke="#1a1a1a" stroke-width="0.7"/>
<line x1="503.27" y1="203.12" x2="503.27" y2="203.12" stroke="#2a2a2a" stroke-width="0.7059999999999991"/>
<line x1="501.58" y1="203.12" x2="504.97" y2="203.12" stroke="#2a2a2a" stroke-width="0.7059999999999991"/>
<rect x="500.95" y="203.37" width="4.65" height="29.43" fill="#fff" stroke="#1a1a1a" stroke-width="0.7"/>
<text x="381.30" y="242.40" font-size="6.8" text-anchor="start" fill="#000" textLength="10.0" lengthAdjust="spacingAndGlyphs">WT</text>
<text x="400.70" y="242.40" font-size="6.8" text-anchor="start" fill="#000" textLength="16.8" lengthAdjust="spacingAndGlyphs">Bim<tspan font-size="4.49" dy="-2.04" stroke-width="0.1">-/-</tspan></text>
<text x="424.00" y="242.40" font-size="6.8" text-anchor="start" fill="#000" textLength="14.3" lengthAdjust="spacingAndGlyphs">Bid<tspan font-size="4.49" dy="-2.04" stroke-width="0.1">-/-</tspan></text>
<text x="446.00" y="242.40" font-size="6.8" text-anchor="start" fill="#000" textLength="16.6" lengthAdjust="spacingAndGlyphs">Bak<tspan font-size="4.49" dy="-2.04" stroke-width="0.1">-/-</tspan></text>
<text x="468.70" y="242.40" font-size="6.8" text-anchor="start" fill="#000" textLength="15.7" lengthAdjust="spacingAndGlyphs">Bax<tspan font-size="4.49" dy="-2.04" stroke-width="0.1">-/-</tspan></text>
<text x="487.90" y="242.40" font-size="6.8" text-anchor="start" fill="#000" textLength="31.1" lengthAdjust="spacingAndGlyphs">Bak/Bax<tspan font-size="4.49" dy="-2.04" stroke-width="0.1">-/-</tspan></text>
<rect x="412.70" y="152.40" width="5.40" height="5.20" fill="#000" stroke="#111" stroke-width="0.85"/>
<text x="421.30" y="156.80" font-size="5" text-anchor="start" fill="#000" >0.1 <tspan font-style="italic">µ</tspan>M</text>
<rect x="412.70" y="164.00" width="5.40" height="5.20" fill="#a8a8a8" stroke="#111" stroke-width="0.85"/>
<text x="421.30" y="168.40" font-size="5" text-anchor="start" fill="#000" >0.5 <tspan font-style="italic">µ</tspan>M</text>
<rect x="412.70" y="175.10" width="5.40" height="5.20" fill="#fff" stroke="#111" stroke-width="0.85"/>
<text x="421.30" y="179.50" font-size="5" text-anchor="start" fill="#000" >1.0 <tspan font-style="italic">µ</tspan>M</text>
</g>
</svg>
</body></html>
